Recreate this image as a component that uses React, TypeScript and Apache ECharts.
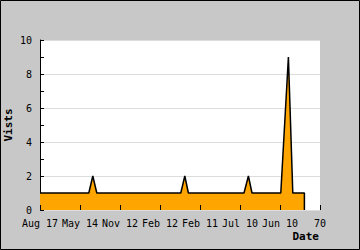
import React, { useEffect, useRef } from "react";
import * as echarts from "echarts";

const xTickLabels = ["Aug 17", "May 14", "Nov 12", "Feb 12", "Feb 11", "Jul 10", "Jun 10", "70"];
const visitX = [0, 12.2, 13.2, 14.2, 35.2, 36.2, 37.1, 51, 52.1, 53, 60.2, 62.1, 63.2, 66.1, 66.1];
const visits = [1, 1, 2, 1, 1, 2, 1, 1, 2, 1, 1, 9, 1, 1, 0];

const FONT = "DejaVu Sans Mono";

export default function App() {
  const ref = useRef<HTMLDivElement>(null);
  useEffect(() => {
    if (!ref.current) return;
    const chart = echarts.init(ref.current, undefined, { renderer: "svg" });
    chart.setOption({
      animation: false,
      backgroundColor: "#c8c8c8",
      grid: {
        left: 40,
        right: 40,
        top: 40,
        bottom: 40,
        show: true,
        backgroundColor: "#ffffff",
        borderWidth: 0,
      },
      xAxis: {
        type: "value",
        min: 0,
        max: 70,
        interval: 10,
        z: 5,
        axisLine: { show: false },
        axisTick: { show: true, inside: true, length: 5, lineStyle: { color: "#000", width: 1 } },
        splitLine: { show: false },
        axisLabel: {
          color: "#000",
          fontFamily: FONT,
          fontSize: 10,
          margin: 8,
          formatter: (v: number) => xTickLabels[Math.round(v / 10)] ?? "",
        },
      },
      yAxis: {
        type: "value",
        min: 0,
        max: 10,
        interval: 2,
        axisLine: { show: true, lineStyle: { color: "#000", width: 1 } },
        axisTick: { show: true, inside: true, length: 4, lineStyle: { color: "#000", width: 1 } },
        minorTick: { show: true, splitNumber: 2, length: 4, lineStyle: { color: "#000", width: 1 } },
        splitLine: { show: true, lineStyle: { color: "#dddddd", width: 1 } },
        axisLabel: { color: "#000", fontFamily: FONT, fontSize: 10, margin: 8 },
      },
      graphic: [
        {
          type: "rect",
          shape: { x: 0.5, y: 0.5, width: 359, height: 249 },
          style: { fill: "none", stroke: "#000", lineWidth: 1 },
          silent: true,
          z: 100,
        },
        {
          type: "text",
          x: 319,
          y: 236,
          style: {
            text: "Date",
            fontFamily: FONT,
            fontWeight: "bold",
            fontSize: 11,
            fill: "#000",
            align: "right",
            verticalAlign: "middle",
          },
        },
        {
          type: "text",
          x: 8,
          y: 125,
          rotation: Math.PI / 2,
          style: {
            text: "Vists",
            fontFamily: FONT,
            fontWeight: "bold",
            fontSize: 11,
            fill: "#000",
            align: "center",
            verticalAlign: "middle",
          },
        },
      ],
      series: [
        {
          type: "line",
          data: visitX.map((x, i) => [x, visits[i]]),
          symbol: "none",
          lineStyle: { color: "#000", width: 1.5 },
          areaStyle: { color: "#ffa500", opacity: 1 },
          z: 1,
        },
      ],
    });
    return () => chart.dispose();
  }, []);
  return <div ref={ref} style={{ position: "fixed", left: 0, top: 0, width: 360, height: 250 }} />;
}
